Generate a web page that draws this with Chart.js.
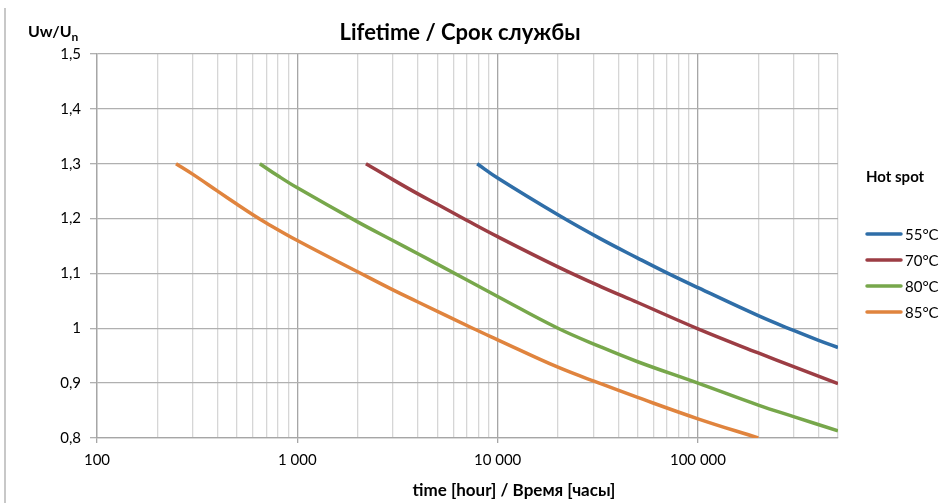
<!DOCTYPE html>
<html>
<head>
<meta charset="utf-8">
<script src="https://cdn.jsdelivr.net/npm/chart.js@4"></script>
<style>
  html, body { margin: 0; padding: 0; background: #fff; }
  #wrap { width: 949px; height: 503px; }
</style>
</head>
<body>
<div id="wrap"><canvas id="lifetime"></canvas></div>
<script>
// Кривые срока службы (время в часах, Uw/Un)
const hotSpotLabels = ['55°C', '70°C', '80°C', '85°C'];
const seriesColors = ['#2f6ea8', '#9c3d44', '#77a74b', '#e0843e'];

const hours55 = [7900, 10000, 20000, 32700, 50000, 70000, 100000, 200000, 300000, 400000, 500000];
const volts55 = [1.30, 1.274, 1.207, 1.163, 1.128, 1.101, 1.074, 1.023, 0.996, 0.978, 0.965];

const hours70 = [2200, 3000, 4000, 5000, 7000, 10000, 20000, 32700, 50000, 100000, 200000, 300000, 500000];
const volts70 = [1.30, 1.271, 1.245, 1.226, 1.197, 1.167, 1.112, 1.076, 1.047, 0.999, 0.955, 0.930, 0.899];

const hours80 = [650, 800, 1000, 2000, 3000, 4000, 5000, 10000, 20000, 32700, 50000, 100000, 200000, 300000, 500000];
const volts80 = [1.30, 1.278, 1.256, 1.194, 1.160, 1.136, 1.117, 1.058, 1.000, 0.966, 0.939, 0.900, 0.860, 0.839, 0.813];

const hours85 = [248, 300, 400, 500, 600, 700, 1000, 2000, 3000, 4000, 7500, 10000, 20000, 32700, 50000, 100000, 200000];
const volts85 = [1.30, 1.281, 1.250, 1.226, 1.207, 1.192, 1.160, 1.103, 1.070, 1.048, 1.000, 0.979, 0.929, 0.899, 0.874, 0.835, 0.80];

const yTicks = [0.8, 0.9, 1.0, 1.1, 1.2, 1.3, 1.4, 1.5];
const xDecades = [100, 1000, 10000, 100000];

const allHours = [hours55, hours70, hours80, hours85];
const allVolts = [volts55, volts70, volts80, volts85];

const FONT = 'Lato, "Open Sans", sans-serif';

function isDecade(v) {
  return xDecades.includes(Math.round(v));
}

function fmtThousands(v) {
  return String(Math.round(v)).replace(/\B(?=(\d{3})+(?!\d))/g, ' ');
}

const datasets = hotSpotLabels.map((label, i) => ({
  label: label,
  data: allHours[i].map((h, j) => ({ x: h, y: allVolts[i][j] })),
  borderColor: seriesColors[i],
  backgroundColor: seriesColors[i],
  borderWidth: 3.5,
  pointRadius: 0,
  fill: false,
  tension: 0.4,
}));

// подписи, легенда и рамка
const textPlugin = {
  id: 'texts',
  afterDraw(chart) {
    const c = chart.ctx;
    c.save();
    // левая рамка
    c.strokeStyle = '#c8c8c8';
    c.lineWidth = 2;
    c.beginPath();
    c.moveTo(5, 8);
    c.lineTo(5, 503);
    c.stroke();

    c.fillStyle = '#000';
    c.textBaseline = 'alphabetic';
    // заголовок
    c.font = 'bold 22px ' + FONT;
    c.textAlign = 'center';
    c.fillText('Lifetime / Срок службы', 460, 40);
    // подпись оси X
    c.font = 'bold 17px ' + FONT;
    c.fillText('time [hour] / Время [часы]', 514, 496);
    // подпись оси Y
    c.textAlign = 'left';
    c.font = 'bold 16px ' + FONT;
    c.fillText('Uw/U', 28, 37);
    const w = c.measureText('Uw/U').width;
    c.font = 'bold 12px ' + FONT;
    c.fillText('n', 28 + w, 41);

    // легенда
    c.textBaseline = 'middle';
    c.font = 'bold 15px ' + FONT;
    c.fillText('Hot spot', 866, 177);
    c.font = '15px ' + FONT;
    chart.data.datasets.forEach((ds, i) => {
      const y = 234 + i * 26;
      c.strokeStyle = ds.borderColor;
      c.lineWidth = 3.5;
      c.lineCap = 'round';
      c.beginPath();
      c.moveTo(867, y);
      c.lineTo(901, y);
      c.stroke();
      c.fillStyle = '#000';
      c.fillText(ds.label, 905, y + 1);
    });
    c.restore();
  }
};

const ctx = document.getElementById('lifetime').getContext('2d');
const lifetimeChart = new Chart(ctx, {
  type: 'line',
  data: { datasets: datasets },
  options: {
    responsive: true,
    maintainAspectRatio: false,
    animation: false,
    layout: { padding: { top: 54, right: 111, left: 0, bottom: 0 } },
    plugins: {
      legend: { display: false },
      tooltip: { enabled: false },
    },
    scales: {
      x: {
        type: 'logarithmic',
        min: 100,
        max: 500000,
        afterBuildTicks(scale) {
          const t = [];
          xDecades.forEach(d => {
            for (let m = 1; m <= 9; m++) {
              const v = d * m;
              if (v <= 500000) t.push({ value: v });
            }
          });
          scale.ticks = t;
        },
        afterFit(scale) { scale.height = 65; },
        ticks: {
          autoSkip: false,
          maxRotation: 0,
          padding: 8,
          color: '#000',
          font: { family: FONT, size: 15 },
          callback: (v) => isDecade(v) ? fmtThousands(v) : '',
        },
        grid: {
          color: (c) => c.tick && isDecade(c.tick.value) ? '#a6a6a6' : '#d6d6d6',
          tickColor: (c) => c.tick && isDecade(c.tick.value) ? '#a6a6a6' : 'rgba(0,0,0,0)',
          tickLength: 5,
          lineWidth: 1.3,
        },
        border: { color: '#a6a6a6', width: 1.3 },
      },
      y: {
        min: 0.8,
        max: 1.5,
        afterBuildTicks(scale) {
          scale.ticks = yTicks.map(v => ({ value: v }));
        },
        afterFit(scale) { scale.width = 97; },
        ticks: {
          padding: 9,
          color: '#000',
          font: { family: FONT, size: 15 },
          callback: (v) => String(Number(v.toFixed(1))).replace('.', ','),
        },
        grid: {
          color: '#b0b0b0',
          tickColor: '#b0b0b0',
          tickLength: 7,
          lineWidth: 1.3,
        },
        border: { color: '#a6a6a6', width: 1.3 },
      },
    },
  },
  plugins: [textPlugin],
});
</script>
</body>
</html>
